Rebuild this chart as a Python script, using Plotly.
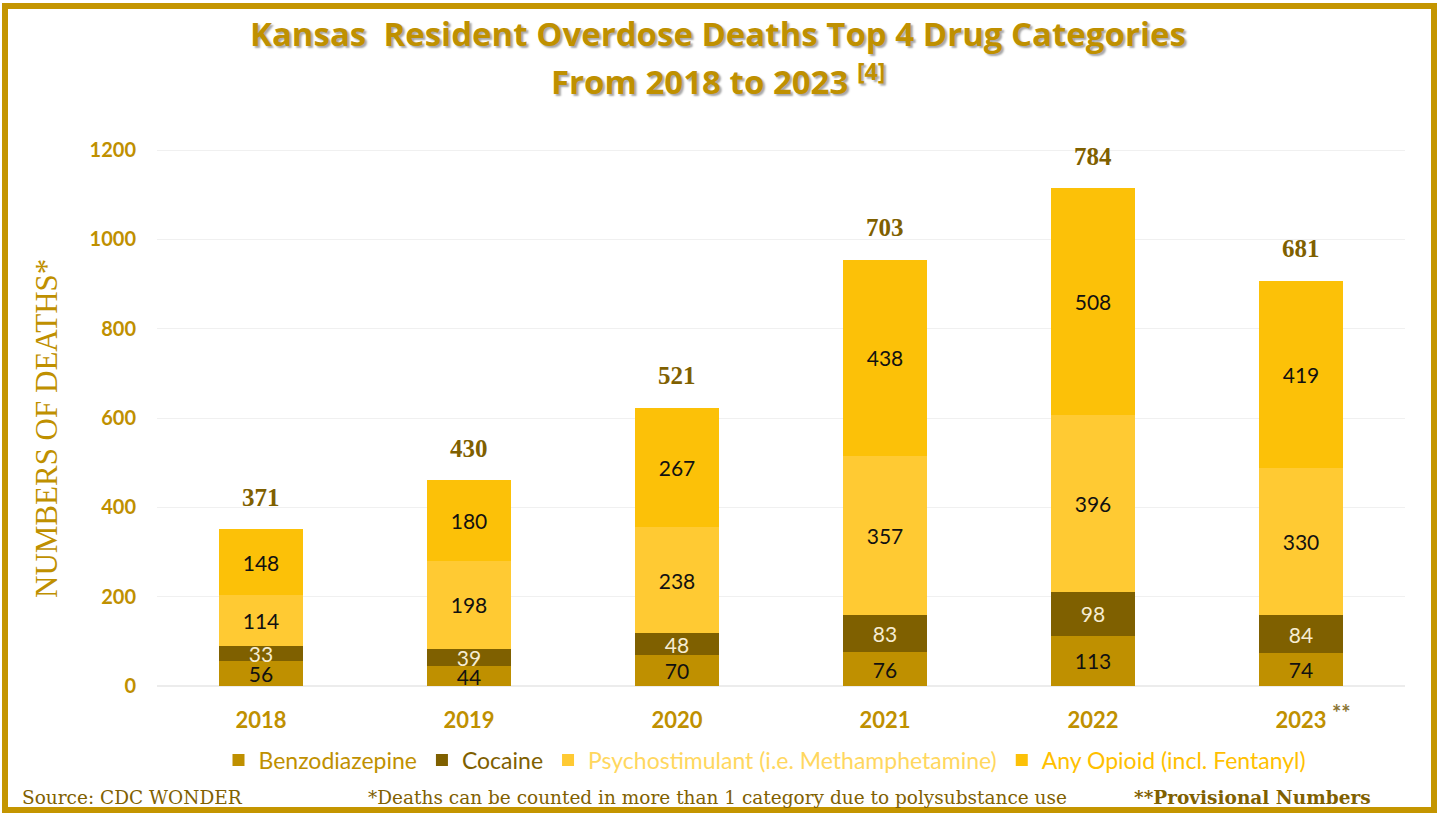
import plotly.graph_objects as go

# Kansas resident overdose deaths by drug category
years = ["2018", "2019", "2020", "2021", "2022", "2023"]
year_labels = ["2018", "2019", "2020", "2021", "2022", "2023"]
benzodiazepine = [56, 44, 70, 76, 113, 74]
cocaine = [33, 39, 48, 83, 98, 84]
psychostimulant = [114, 198, 238, 357, 396, 330]
any_opioid = [148, 180, 267, 438, 508, 419]
totals = [371, 430, 521, 703, 784, 681]
y_ticks = [0, 200, 400, 600, 800, 1000, 1200]

W, H = 1439, 815
GOLD = "#bf9000"
BROWN = "#7f6000"
LIGHT = "#ffca33"
OPIOID = "#fcc108"
SANS = "Lato, 'Open Sans', sans-serif"
SERIF = "'Liberation Serif', 'DejaVu Serif', serif"
NOTE_SERIF = "'DejaVu Serif', serif"


def px_x(p):
    return p / W


def px_y(p):
    return 1 - p / H


series = [
    ("Benzodiazepine", benzodiazepine, GOLD, "#111111", GOLD),
    ("Cocaine", cocaine, BROWN, "#f6ecd2", BROWN),
    ("Psychostimulant (i.e. Methamphetamine)", psychostimulant, LIGHT, "#111111", "#ffd75e"),
    ("Any Opioid (incl. Fentanyl)", any_opioid, OPIOID, "#111111", "#ffc000"),
]

fig = go.Figure()
for name, vals, color, txtcolor, legcolor in series:
    fig.add_trace(go.Bar(
        x=years, y=vals,
        name=f"<span style='color:{legcolor}'>{name}</span>",
        marker=dict(color=color, line=dict(width=0)),
        text=[str(v) for v in vals],
        textposition="inside",
        insidetextanchor="middle",
        textangle=0,
        insidetextfont=dict(family=SANS, size=21, color=txtcolor),
        cliponaxis=False,
    ))

# totals above each stack (category index on the x axis)
stack_tops = [a + b + c + d for a, b, c, d in zip(benzodiazepine, cocaine, psychostimulant, any_opioid)]
for i, (top, tot) in enumerate(zip(stack_tops, totals)):
    fig.add_annotation(
        x=i, y=top, text=f"<b>{tot}</b>", showarrow=False,
        yshift=32, font=dict(family=SERIF, size=25, color=BROWN),
    )

# provisional-year marker next to the last tick label
fig.add_annotation(
    x=len(years) - 1, xref="x", yref="paper", y=px_y(712),
    text="**", showarrow=False, xanchor="left", yanchor="middle", xshift=29,
    font=dict(family=SANS, size=22, color="#8a7434", weight="bold"),
)

title_font = dict(family="'Open Sans', sans-serif", size=33, color=GOLD,
                  weight="bold", shadow="2px 2px 2px rgba(0,0,0,0.35)")
fig.add_annotation(
    xref="paper", yref="paper", x=px_x(718), y=px_y(34),
    text="Kansas  Resident Overdose Deaths Top 4 Drug Categories",
    showarrow=False, font=title_font, xanchor="center", yanchor="middle",
)
fig.add_annotation(
    xref="paper", yref="paper", x=px_x(718), y=px_y(79),
    text="From 2018 to 2023 <sup>[4]</sup>",
    showarrow=False, font=title_font, xanchor="center", yanchor="middle",
)

# y-axis title
fig.add_annotation(
    xref="paper", yref="paper", x=px_x(47), y=px_y(429),
    text="NUMBERS OF DEATHS*", textangle=-90, showarrow=False,
    font=dict(family=SERIF, size=31, color=GOLD),
    xanchor="center", yanchor="middle",
)

# footer notes
foot = dict(family=NOTE_SERIF, size=18.5, color=BROWN)
fig.add_annotation(xref="paper", yref="paper", x=px_x(20), y=px_y(797),
                   text="Source: CDC WONDER", showarrow=False, font=foot,
                   xanchor="left", yanchor="middle")
fig.add_annotation(xref="paper", yref="paper", x=px_x(366), y=px_y(797),
                   text="*Deaths can be counted in more than 1 category due to polysubstance use",
                   showarrow=False, font=foot, xanchor="left", yanchor="middle")
fig.add_annotation(xref="paper", yref="paper", x=px_x(1373), y=px_y(797),
                   text="<b>**Provisional Numbers</b>", showarrow=False, font=foot,
                   xanchor="right", yanchor="middle")

# outer frame
fig.add_shape(type="rect", xref="paper", yref="paper",
              x0=px_x(5), x1=px_x(1434), y0=px_y(810), y1=px_y(6),
              line=dict(color="#c49500", width=6), fillcolor="rgba(0,0,0,0)", layer="above")

fig.update_layout(
    width=W, height=H, autosize=False,
    margin=dict(l=0, r=0, t=0, b=0, autoexpand=False),
    paper_bgcolor="white", plot_bgcolor="white",
    barmode="stack", bargap=0.6,
    showlegend=True,
    legend=dict(orientation="h", x=px_x(765), xanchor="center",
                y=px_y(760), yanchor="middle",
                font=dict(family=SANS, size=23), itemwidth=30,
                bgcolor="rgba(0,0,0,0)", traceorder="normal"),
    uniformtext=dict(minsize=21, mode="show"),
    xaxis=dict(type="category", automargin=False, range=[-0.5, 5.5],
               domain=[px_x(157), px_x(1405)], tickvals=years, ticktext=year_labels,
               showgrid=False, showline=False, zeroline=False, ticks="",
               tickangle=0,
               tickfont=dict(family=SANS, size=22, color=GOLD, weight="bold"),
               ticklabelstandoff=19),
    yaxis=dict(automargin=False,
               domain=[px_y(686), px_y(130)], range=[0, 1245], tickvals=y_ticks,
               showgrid=True, gridcolor="#f0f0f0", gridwidth=1,
               zeroline=True, zerolinecolor="#ececec", zerolinewidth=2,
               showline=False, ticks="",
               tickfont=dict(family=SANS, size=20, color=GOLD, weight="bold"),
               ticklabelstandoff=20),
)

fig.write_html("out.html")
